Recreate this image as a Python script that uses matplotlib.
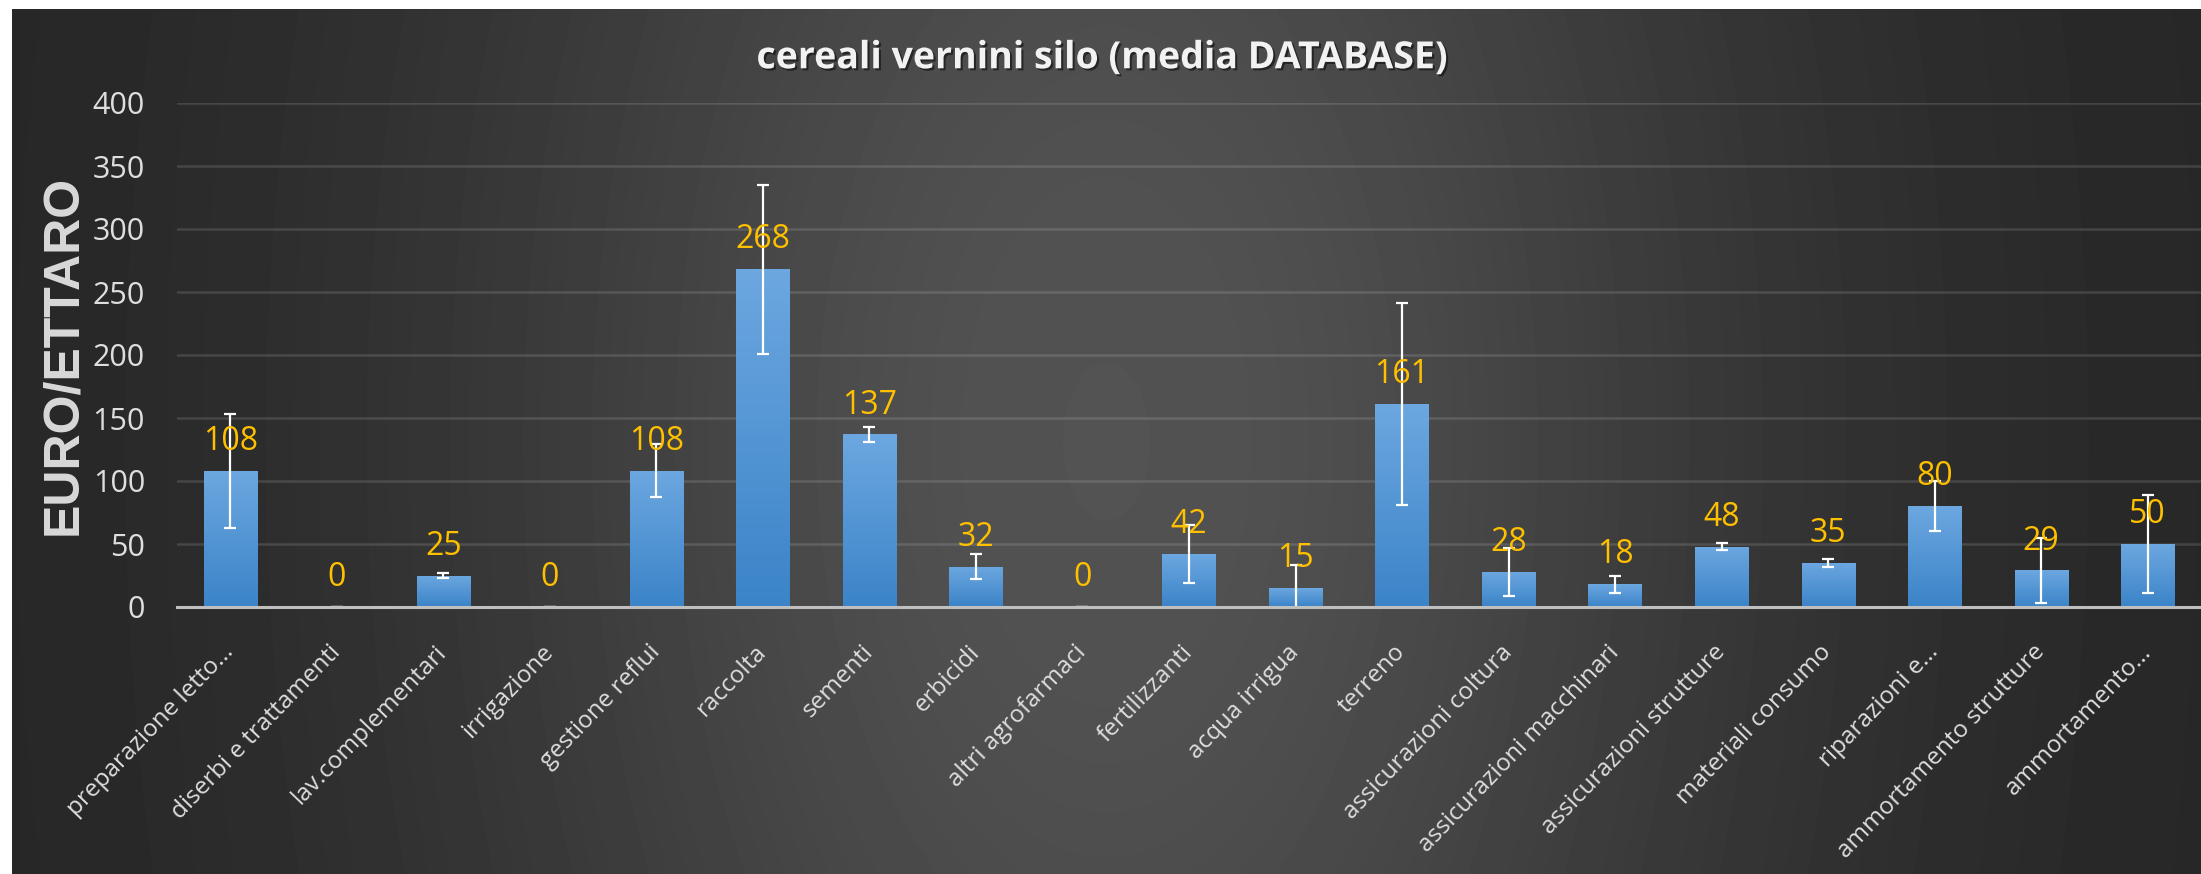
import matplotlib.pyplot as plt
import matplotlib.patheffects as pe
import numpy as np

categories = [
    "preparazione letto...", "diserbi e trattamenti", "lav.complementari",
    "irrigazione", "gestione reflui", "raccolta", "sementi", "erbicidi",
    "altri agrofarmaci", "fertilizzanti", "acqua irrigua", "terreno",
    "assicurazioni coltura", "assicurazioni macchinari",
    "assicurazioni strutture", "materiali consumo", "riparazioni e...",
    "ammortamento strutture", "ammortamento...",
]
values = [108, 0, 25, 0, 108, 268, 137, 32, 0, 42, 15, 161, 28, 18, 48, 35, 80, 29, 50]
errors = [45, 0, 2, 0, 21, 67, 6, 10, 0, 23, 18, 80, 19, 7, 3, 3, 20, 26, 39]
y_ticks = [0, 50, 100, 150, 200, 250, 300, 350, 400]

plt.rcParams["font.family"] = ["Open Sans", "DejaVu Sans"]

W, H = 2201, 874
fig = plt.figure(figsize=(W / 100, H / 100), dpi=100, facecolor="white")

# dark gradient background (lighter in the middle)
bg = fig.add_axes([12 / W, 0, 1 - 12 / W, 1 - 9 / H], zorder=0)
gx, gy = np.meshgrid(np.linspace(0, 1, 500), np.linspace(0, 1, 120))
shade = 0.145 + 0.18 * np.exp(-((gx - 0.5) / 0.3) ** 2 - ((gy - 0.5) / 1.4) ** 2)
bg.imshow(shade, cmap="gray", vmin=0, vmax=1, aspect="auto",
          extent=[0, 1, 0, 1], interpolation="bilinear")
bg.axis("off")

ax = fig.add_axes([177 / W, 1 - 607 / H, 1 - 177 / W, (607 - 103) / H], zorder=1)
ax.patch.set_alpha(0)

x = np.arange(len(categories))
bars = ax.bar(x, values, width=0.5, color="none", zorder=2)

# vertical gradient fill on each bar
grad = np.linspace(0, 1, 100)[:, None]
top_c = np.array([0x6c, 0xa7, 0xe0]) / 255
bot_c = np.array([0x3b, 0x84, 0xc8]) / 255
grad_img = (bot_c * (1 - grad) + top_c * grad)[:, None, :].repeat(2, axis=1)
for b in bars:
    if b.get_height() <= 0:
        continue
    im = ax.imshow(grad_img, origin="lower", aspect="auto", zorder=2,
                   extent=[b.get_x(), b.get_x() + b.get_width(), 0, b.get_height()])
    im.set_clip_path(b)

ax.errorbar(x, values, yerr=errors, fmt="none", ecolor="white",
            elinewidth=1.6, capsize=4, capthick=1.6, zorder=3)

for xi, v in zip(x, values):
    ax.annotate(f"{v}", (xi, v), xytext=(0, 15), textcoords="offset points",
                ha="center", va="baseline", color="#FFC000", fontsize=23, zorder=4)

ax.set_xlim(-0.5, len(categories) - 0.5)
ax.set_ylim(0, 400)
ax.set_yticks(y_ticks)
ax.set_xticks(x, categories, rotation=46, ha="right", va="center",
              rotation_mode="anchor")
ax.tick_params(axis="x", length=0, pad=30, colors="#dedede", labelsize=17.5)
ax.tick_params(axis="y", length=0, pad=23, colors="#dedede", labelsize=22)

ax.yaxis.grid(True, color="white", alpha=0.13, linewidth=1.8)
ax.set_axisbelow(True)
for side in ["top", "right", "left"]:
    ax.spines[side].set_visible(False)
ax.spines["bottom"].set_color("#bfbfbf")
ax.spines["bottom"].set_linewidth(2.2)
ax.spines["bottom"].set_zorder(5)

ax.set_ylabel("EURO/ETTARO", fontsize=36, fontweight="bold", color="#d9d9d9",
              family=["Liberation Sans", "DejaVu Sans"])
ax.yaxis.set_label_coords(-0.045, 0.5)

ax.set_title("cereali vernini silo (media DATABASE)", x=0.457, pad=25,
             fontsize=27, fontweight="bold", color="#f2f2f2",
             path_effects=[pe.withSimplePatchShadow(offset=(1.5, -1.5),
                                                    shadow_rgbFace="black", alpha=0.5)])

fig.savefig("out.png", dpi=100, facecolor=fig.get_facecolor())
